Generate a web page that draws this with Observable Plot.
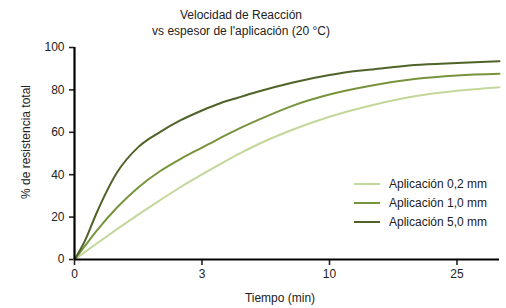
<!DOCTYPE html>
<html><head><meta charset="utf-8">
<script src="https://cdn.jsdelivr.net/npm/d3@7"></script>
<script src="https://cdn.jsdelivr.net/npm/@observablehq/plot@0.6"></script>
<style>
body{margin:0;background:#fff;font-family:"Liberation Sans",Arial,sans-serif;}
#wrap{position:relative;width:506px;height:308px;overflow:hidden;}
.t{position:absolute;font-size:12px;color:#222;white-space:nowrap;line-height:16px;}
#wrap svg [aria-label$="tick"]{stroke-width:1.6;}
</style></head><body><div id="wrap"></div>
<script>
const titleLines = ["Velocidad de Reacción", "vs espesor de l'aplicación (20 °C)"];
const xLabel = "Tiempo (min)";
const yLabel = "% de resistencia total";
const times = [0, 0.25, 0.5, 1, 1.5, 2, 2.5, 3, 4, 5, 6, 8, 10, 12, 15, 20, 25, 30];
const app02 = [0, 3.6, 7.2, 14.3, 21.2, 27.8, 34.2, 40.1, 45, 49.7, 54, 61.3, 67.3, 69.7, 72.8, 77, 79.6, 81.3];
const app10 = [0, 6.5, 13, 24.5, 34, 41.5, 47.5, 52.8, 57.3, 61.6, 65.5, 72.6, 77.8, 79.7, 82.1, 85.1, 86.8, 87.6];
const app50 = [0, 9, 21, 41, 53, 60, 65.7, 70.3, 73.7, 76.4, 79, 83.5, 87, 88.3, 89.6, 91.7, 92.7, 93.5];
const seriesNames = ["Aplicación 0,2 mm", "Aplicación 1,0 mm", "Aplicación 5,0 mm"];
const seriesColors = ["#c4d79b", "#77933c", "#4f6228"];
const xTicks = [0, 3, 10, 25];
const yTicks = [0, 20, 40, 60, 80, 100];

const seriesValues = [app02, app10, app50];
const data = [];
seriesNames.forEach((s, i) => times.forEach((t, j) => data.push({serie: s, t, v: seriesValues[i][j]})));

const W = 506, H = 308, mL = 74, mR = 7, mT = 47, mB = 49;
// equal spacing between labelled ticks; the last segment continues to t=30
const segs = xTicks.length - 1 + (times[times.length - 1] - xTicks[xTicks.length - 1]) / (xTicks[3] - xTicks[2]);
const step = (W - mL - mR) / segs;
const xRange = xTicks.map((_, i) => mL + i * step);

const chart = Plot.plot({
  width: W, height: H,
  marginLeft: mL, marginRight: mR, marginTop: mT, marginBottom: mB,
  style: {fontSize: "12px", fontFamily: "Liberation Sans, Arial, sans-serif", color: "#222", background: "#fff"},
  x: {type: "linear", domain: xTicks, range: xRange, ticks: xTicks, tickSize: 6, tickPadding: 4, label: null},
  y: {domain: [0, 100], ticks: yTicks, tickSize: 5, tickPadding: 5, label: null},
  color: {domain: seriesNames, range: seriesColors},
  marks: [
    Plot.line(data, {x: "t", y: "v", z: "serie", stroke: "serie", strokeWidth: 2, curve: "monotone-x"}),
    Plot.ruleX([0], {stroke: "#000", strokeWidth: 2.2}),
    Plot.ruleY([0], {stroke: "#000", strokeWidth: 2.2})
  ]
});
const wrap = document.getElementById("wrap");
wrap.appendChild(chart);

function addText(txt, css) {
  const d = document.createElement("div");
  d.className = "t";
  d.textContent = txt;
  Object.assign(d.style, css);
  wrap.appendChild(d);
  return d;
}
addText(titleLines[0], {left: "0px", width: "482px", top: "7px", textAlign: "center"});
addText(titleLines[1], {left: "0px", width: "482px", top: "23px", textAlign: "center"});
addText(xLabel, {left: "180px", width: "200px", top: "290px", textAlign: "center"});
addText(yLabel, {left: "-74px", width: "200px", top: "134px", textAlign: "center", transform: "rotate(-90deg)"});

const legendY = [184, 203, 222];
seriesNames.forEach((s, i) => {
  const ln = document.createElement("div");
  Object.assign(ln.style, {position: "absolute", left: "354px", width: "26px", top: (legendY[i] - 1) + "px", height: "2px", background: seriesColors[i]});
  wrap.appendChild(ln);
  addText(s, {left: "389px", top: (legendY[i] - 8) + "px"});
});
</script></body></html>
